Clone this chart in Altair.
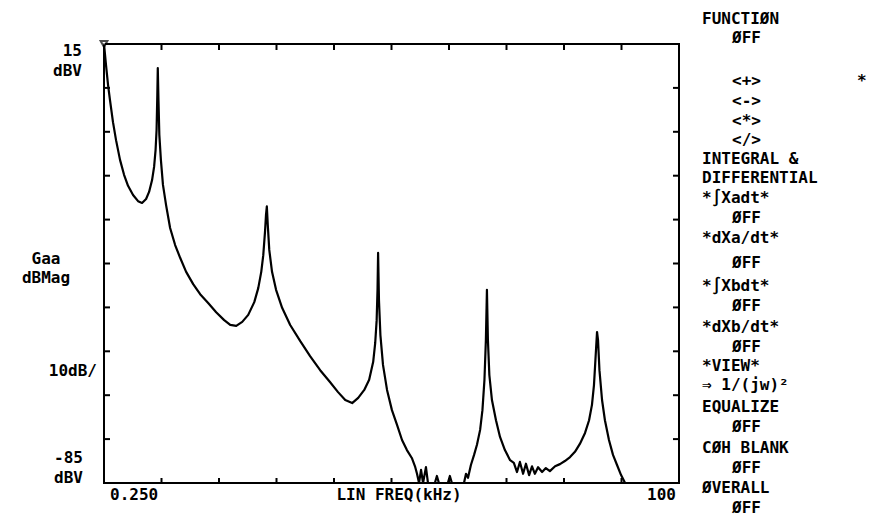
import altair as alt
import pandas as pd

# ---- trace data (kHz, dBV) ----
freq_khz = [0.25, 0.60, 0.95, 1.29, 1.81, 2.34, 3.03, 3.73, 4.42, 5.29, 6.16, 6.85, 7.55, 8.07, 8.59,
            8.94, 9.20, 9.37, 9.50, 9.58, 9.70, 9.85, 10.12, 10.48, 11.02, 11.72, 12.59, 13.46, 14.50,
            15.72, 16.93, 18.32, 19.71, 21.10, 22.15, 23.19, 24.23, 25.27, 26.32, 27.01, 27.53, 27.88,
            28.18, 28.35, 28.50, 28.66, 28.92, 29.40, 30.10, 31.15, 32.55, 34.30, 36.00, 37.75, 39.45,
            40.85, 42.10, 43.30, 44.35, 45.40, 46.25, 46.95, 47.30, 47.55, 47.70, 47.80, 47.95, 48.20,
            48.65, 49.35, 50.20, 51.10, 51.95, 52.80, 53.65, 54.20, 54.55, 54.90, 55.25, 55.60, 56.10,
            56.45, 57.65, 58.00, 58.35, 59.90, 60.25, 60.60, 62.70, 63.05, 63.40, 63.90, 64.45, 64.95,
            65.50, 65.90, 66.25, 66.50, 66.68, 66.85, 67.10, 67.55, 68.25, 68.95, 69.80, 70.70, 71.35,
            71.90, 72.40, 72.95, 73.45, 74.00, 74.50, 75.00, 75.55, 76.25, 76.90, 77.60, 78.50, 79.35,
            80.20, 81.10, 81.95, 82.80, 83.70, 84.40, 84.90, 85.25, 85.50, 85.78, 85.95, 86.20, 86.65,
            87.15, 87.85, 88.55, 89.25, 89.95, 90.65, 100.0]
level_dbv = [15.0, 10.2, 5.7, 2.2, -2.8, -6.9, -11.4, -14.8, -17.3, -19.4, -20.8, -21.2, -20.3, -18.7, -16.0,
             -13.0, -9.1, -4.6, 3.4, 9.5, 2.2, -5.7, -11.4, -17.1, -21.7, -26.9, -30.8, -33.7, -36.9,
             -39.7, -42.0, -44.0, -46.1, -47.9, -49.0, -49.2, -48.3, -46.7, -43.8, -40.6, -36.9, -33.1,
             -27.8, -24.0, -22.0, -26.2, -31.9, -36.9, -41.0, -45.1, -49.0, -52.7, -56.1, -59.3, -62.0,
             -64.3, -66.1, -66.8, -65.6, -63.8, -61.5, -57.4, -53.1, -47.9, -41.0, -32.6, -43.3, -51.3,
             -58.1, -63.8, -68.4, -71.8, -75.2, -77.5, -79.3, -81.2, -82.9, -85.0, -82.0, -85.0, -81.4,
             -85.0, -85.0, -83.4, -85.0, -85.0, -83.4, -85.0, -85.0, -82.9, -83.8, -80.9, -78.6, -76.3,
             -72.9, -68.4, -61.5, -52.4, -41.0, -52.4, -60.4, -66.1, -70.7, -74.5, -77.5, -79.8, -80.4,
             -82.5, -80.2, -82.9, -80.6, -83.2, -81.2, -82.9, -81.4, -82.5, -81.6, -82.3, -81.2, -80.7,
             -80.0, -79.1, -77.9, -76.1, -73.6, -70.7, -67.2, -62.7, -57.0, -50.6, -52.4, -59.3, -66.1,
             -70.7, -75.2, -78.6, -80.9, -83.2, -85.0, -85.0]

x_tick_khz = [10.225, 20.2, 30.175, 40.15, 50.125, 60.1, 70.075, 80.05, 90.025]
y_tick_dbv = [5, -5, -15, -25, -35, -45, -55, -65, -75]

axis_texts = ["15", "dBV", "Gaa", "dBMag", "10dB/", "-85", "dBV", "0.250", "LIN FREQ(kHz)", "100"]
menu_lines = ["FUNCTIØN", "ØFF", "<+>", "*", "<->", "<*>", "</>", "INTEGRAL &", "DIFFERENTIAL",
              "*∫Xadt*", "ØFF", "*dXa/dt*", "ØFF", "*∫Xbdt*", "ØFF", "*dXb/dt*", "ØFF", "*VIEW*",
              "⇒ 1/(jw)²", "EQUALIZE", "ØFF", "CØH BLANK", "ØFF", "ØVERALL", "ØFF"]

# ---- layout (pixel positions relative to the plot area, whose corner is at page 104,44) ----
W, H = 575, 439
axis_pos = [(-22, 7, "right"), (-22, 27, "right"), (-58, 215, "center"), (-58, 234, "center"),
            (-7, 327, "right"), (-21, 414, "right"), (-21, 434, "right"), (6, 451, "left"),
            (295, 451, "center"), (572, 451, "right")]
mx0, mx1 = 598, 628
menu_y = [19, 38, 81, 81, 101, 121, 140, 159, 178, 198, 218, 238, 263, 286, 306, 327, 347,
          366, 385, 407, 427, 448, 468, 488, 508]
menu_x = [mx0, mx1, mx1, 753, mx1, mx1, mx1, mx0, mx0, mx0, mx1, mx0, mx1, mx0, mx1, mx0, mx1,
          mx0, mx0, mx0, mx1, mx0, mx1, mx0, mx1]

FONT = "DejaVu Sans Mono"
FS = 16

trace = pd.DataFrame({"f": freq_khz, "db": level_dbv, "i": range(len(freq_khz))})
xs = alt.Scale(domain=[0.25, 100], nice=False, zero=False)
ys = alt.Scale(domain=[-85, 15], nice=False, zero=False, clamp=True)

line = alt.Chart(trace).mark_line(color="black", strokeWidth=2.2, strokeJoin="round", clip=True).encode(
    x=alt.X("f:Q", scale=xs, axis=None),
    y=alt.Y("db:Q", scale=ys, axis=None),
    order="i:Q",
)
marker = alt.Chart(trace.iloc[[0]]).mark_point(
    shape="triangle-down", size=45, filled=True, fill="white", stroke="black", strokeWidth=2
).encode(x=alt.X("f:Q", scale=xs, axis=None), y=alt.Y("db:Q", scale=ys, axis=None))

xt = pd.DataFrame({"f": x_tick_khz})
yt = pd.DataFrame({"db": y_tick_dbv})
tick_top = alt.Chart(xt).mark_rule(color="black", strokeWidth=2).encode(
    x=alt.X("f:Q", scale=xs, axis=None), y=alt.value(0), y2=alt.value(6))
tick_bot = alt.Chart(xt).mark_rule(color="black", strokeWidth=2).encode(
    x=alt.X("f:Q", scale=xs, axis=None), y=alt.value(H), y2=alt.value(H - 5))
tick_left = alt.Chart(yt).mark_rule(color="black", strokeWidth=2).encode(
    y=alt.Y("db:Q", scale=ys, axis=None), x=alt.value(0), x2=alt.value(6))
tick_right = alt.Chart(yt).mark_rule(color="black", strokeWidth=2).encode(
    y=alt.Y("db:Q", scale=ys, axis=None), x=alt.value(W), x2=alt.value(W - 6))

dummy = pd.DataFrame({"a": [0]})
texts = []
for label, (px, py, al) in zip(axis_texts, axis_pos):
    texts.append(alt.Chart(dummy).mark_text(
        font=FONT, fontSize=FS, fontWeight="bold", align=al, baseline="middle", color="black"
    ).encode(x=alt.value(px), y=alt.value(py), text=alt.value(label)))
for label, px, py in zip(menu_lines, menu_x, menu_y):
    texts.append(alt.Chart(dummy).mark_text(
        font=FONT, fontSize=FS, fontWeight="bold", align="left", baseline="middle", color="black"
    ).encode(x=alt.value(px), y=alt.value(py - 44), text=alt.value(label)))

chart = alt.layer(line, marker, tick_top, tick_bot, tick_left, tick_right, *texts).properties(
    width=W, height=H,
    padding={"left": 96, "top": 36, "right": 198, "bottom": 40},
    autosize=alt.AutoSizeParams(type="none"),
    background="white",
).configure_view(stroke="black", strokeWidth=2)

chart.save("out.html", embed_options={"renderer": "svg", "actions": False})
